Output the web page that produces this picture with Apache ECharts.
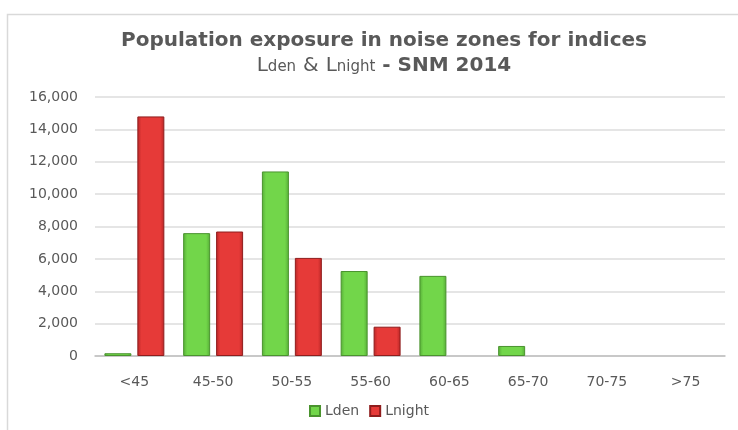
<!DOCTYPE html>
<html lang="en">
<head>
    <meta charset="UTF-8">
    <title>Population exposure</title>
    <script src="https://cdn.jsdelivr.net/npm/echarts@6/dist/echarts.min.js"></script>
    <style>
        html, body { margin: 0; padding: 0; background: #fff; }
    </style>
</head>
<body>
    <div id="pic1" style="width:738px;height:430px;"></div>
    <script>
        // data
        var categories = ['<45', '45-50', '50-55', '55-60', '60-65', '65-70', '70-75', '>75'];
        var lden = [170, 7590, 11400, 5250, 4950, 620, 0, 0];
        var lnight = [14800, 7690, 6060, 1810, 0, 0, 0, 0];
        var yTicks = [0, 2000, 4000, 6000, 8000, 10000, 12000, 14000, 16000];

        var fontName = 'DejaVu Sans';
        var textGrey = '#595959';

        // bevel-like bar fill
        function barFill(edge, mid) {
            return new echarts.graphic.LinearGradient(0, 0, 1, 0, [
                {offset: 0, color: edge},
                {offset: 0.15, color: mid},
                {offset: 0.85, color: mid},
                {offset: 1, color: edge}
            ]);
        }

        // zero values: no outline, so nothing is drawn
        function barData(arr) {
            return arr.map(function (v) {
                return v === 0 ? {value: 0, itemStyle: {borderWidth: 0}} : v;
            });
        }

        var myChart = echarts.init(document.getElementById('pic1'));

        var option = {
            backgroundColor: '#ffffff',
            animation: false,
            textStyle: {fontFamily: fontName},
            graphic: [
                {
                    type: 'rect',
                    shape: {x: 7.5, y: 14.5, width: 760, height: 440},
                    style: {fill: 'none', stroke: '#d9d9d9', lineWidth: 1.5},
                    silent: true
                }
            ],
            title: {
                text: 'Population exposure in noise zones for indices\n{r|L}{s|den} {r|&} {r|L}{s|night} {b|- SNM 2014}',
                left: 379,
                textAlign: 'center',
                top: 23,
                textStyle: {
                    fontFamily: fontName,
                    fontSize: 20,
                    fontWeight: 'bold',
                    color: textGrey,
                    lineHeight: 25,
                    rich: {
                        r: {fontSize: 20, fontWeight: 'normal', color: textGrey, fontFamily: fontName},
                        s: {fontSize: 15, fontWeight: 'normal', color: textGrey, fontFamily: fontName, padding: [4, 0, 0, 0]},
                        b: {fontSize: 20, fontWeight: 'bold', color: textGrey, fontFamily: fontName}
                    }
                }
            },
            legend: {
                data: ['Lden', 'Lnight'],
                bottom: 7,
                left: 'center',
                itemWidth: 10,
                itemHeight: 10,
                itemGap: 10,
                icon: 'rect',
                textStyle: {fontSize: 14, color: textGrey, fontFamily: fontName}
            },
            grid: {
                left: 95,
                right: 13,
                top: 97,
                bottom: 74,
                containLabel: false
            },
            xAxis: {
                type: 'category',
                data: categories,
                axisTick: {show: false},
                axisLine: {lineStyle: {color: '#bfbfbf', width: 1.5}},
                axisLabel: {fontSize: 14, color: textGrey, margin: 19, fontFamily: fontName}
            },
            yAxis: {
                type: 'value',
                min: yTicks[0],
                max: yTicks[yTicks.length - 1],
                interval: 2000,
                axisLine: {show: false},
                axisTick: {show: false},
                splitLine: {lineStyle: {color: '#dcdcdc', width: 1.5}},
                axisLabel: {
                    fontSize: 14,
                    color: textGrey,
                    margin: 17,
                    fontFamily: fontName,
                    formatter: function (v) {
                        return v.toString().replace(/\B(?=(\d{3})+(?!\d))/g, ',');
                    }
                }
            },
            series: [
                {
                    name: 'Lden',
                    type: 'bar',
                    data: barData(lden),
                    barWidth: 27,
                    barGap: '22%',
                    itemStyle: {
                        color: barFill('#56ad37', '#72d64a'),
                        borderColor: '#4a932e',
                        borderWidth: 1
                    }
                },
                {
                    name: 'Lnight',
                    type: 'bar',
                    data: barData(lnight),
                    barWidth: 27,
                    itemStyle: {
                        color: barFill('#b82626', '#e63a38'),
                        borderColor: '#8f1d1d',
                        borderWidth: 1
                    }
                }
            ]
        };

        myChart.setOption(option);
    </script>
</body>
</html>
